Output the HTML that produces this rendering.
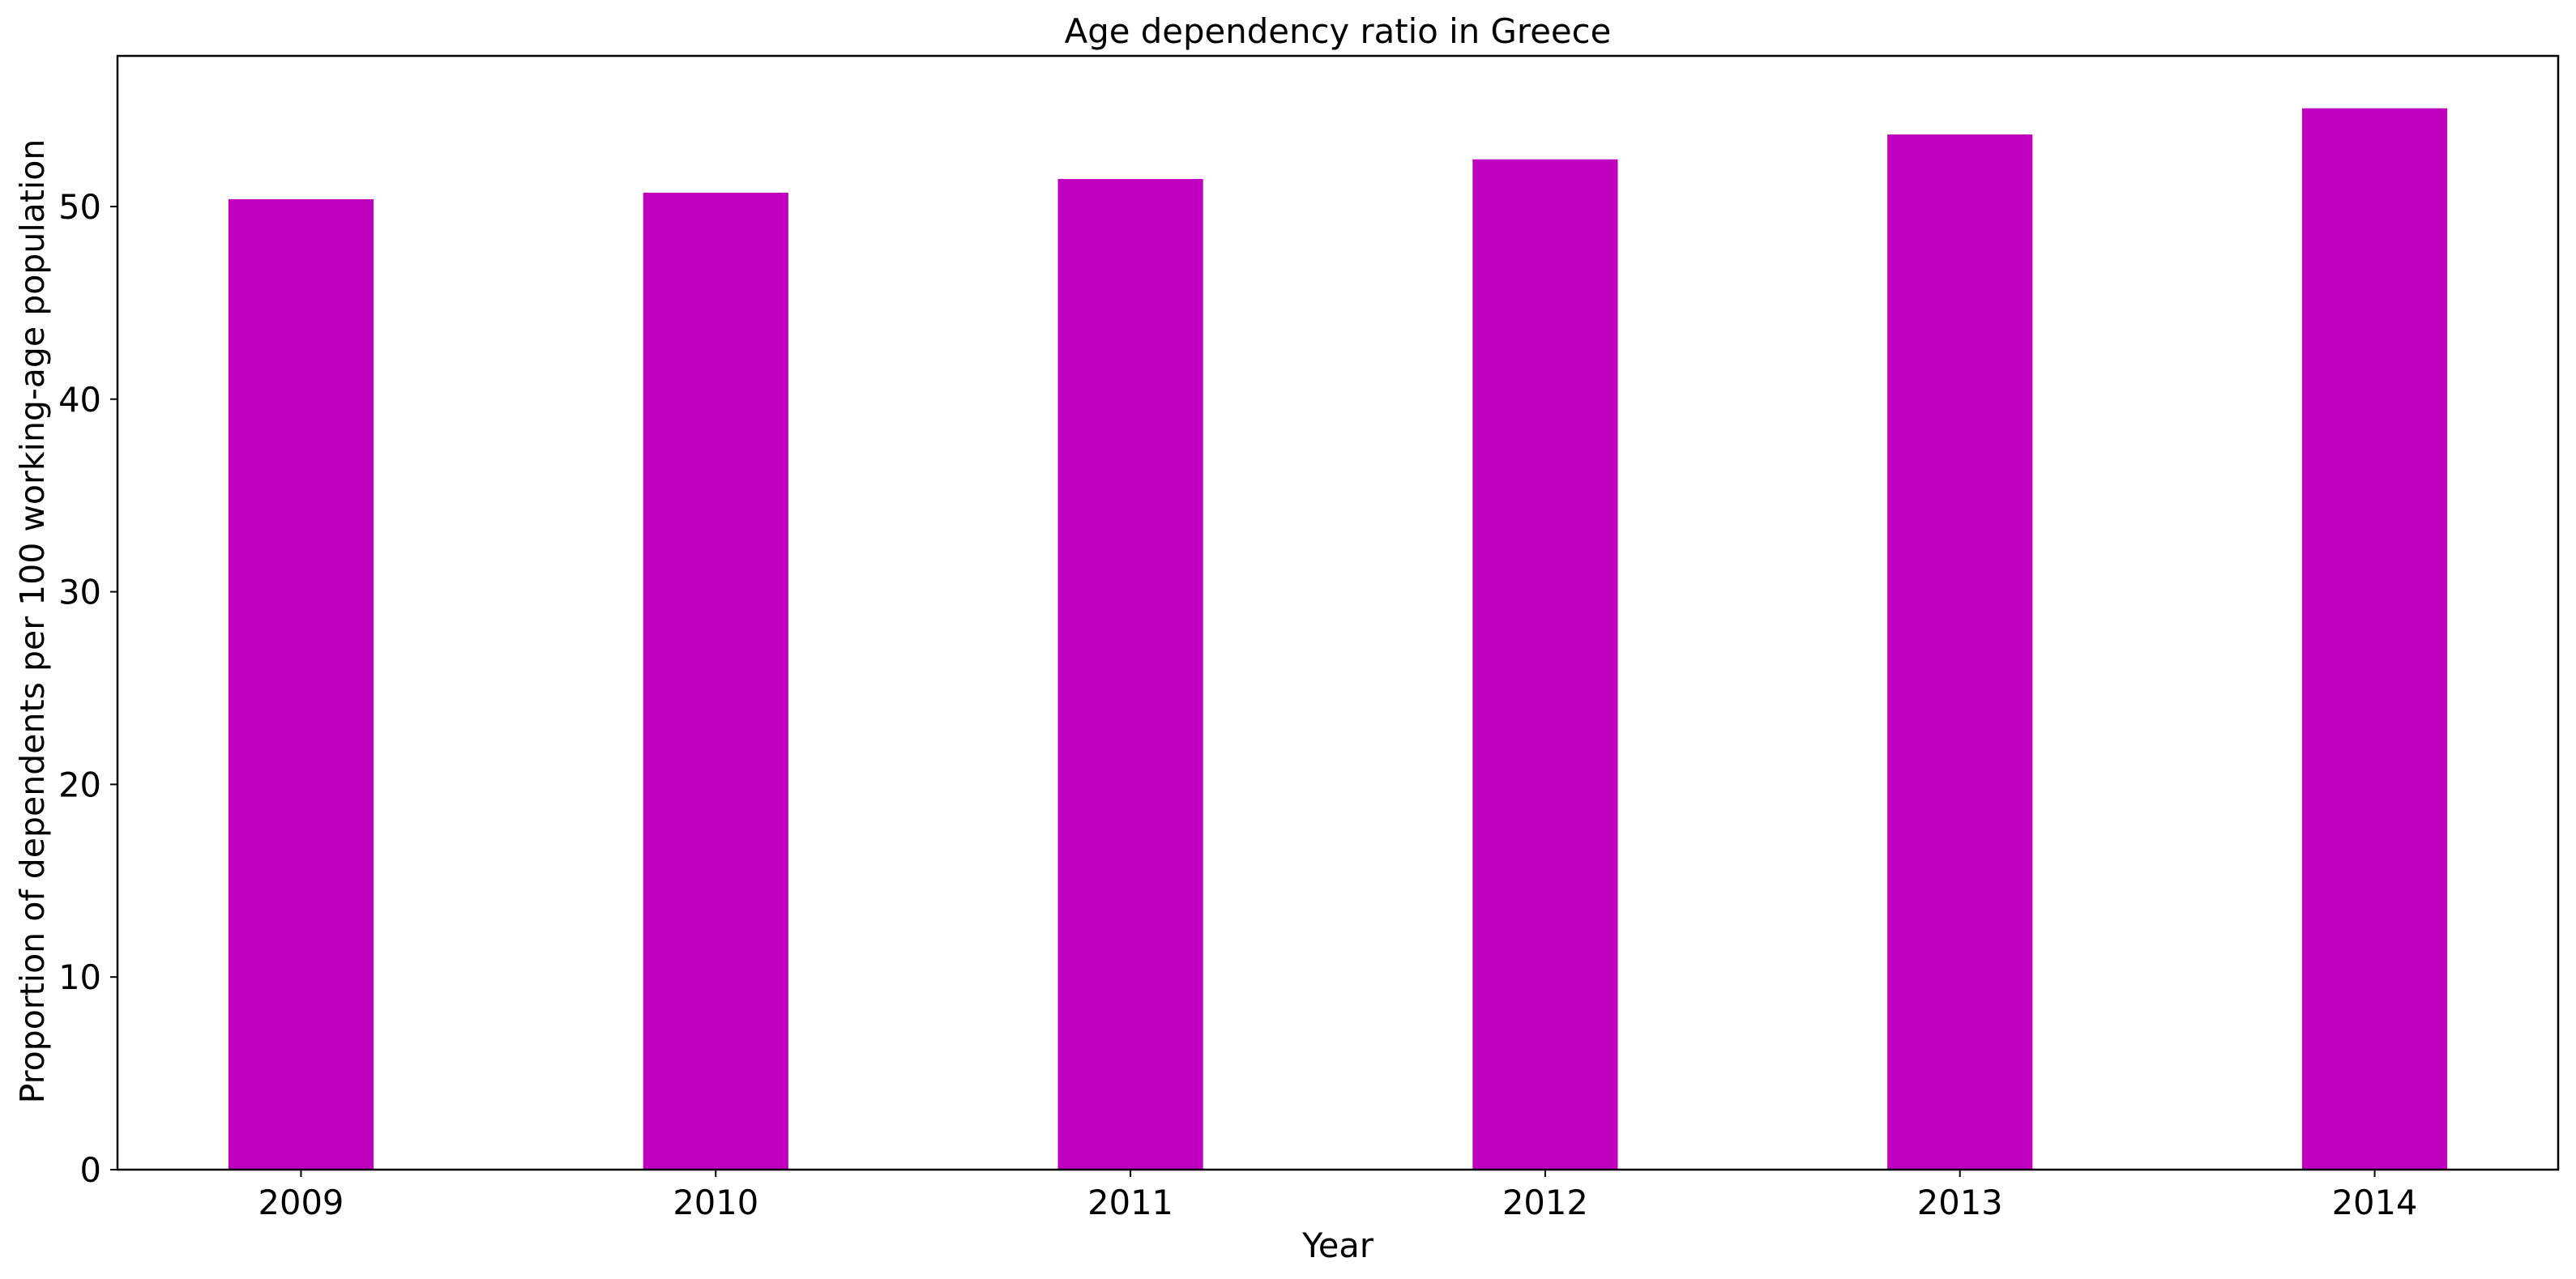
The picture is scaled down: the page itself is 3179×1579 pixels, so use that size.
<!DOCTYPE html>
<html><head><meta charset="utf-8"><style>
html,body{margin:0;padding:0;background:#fff;}
svg{display:block;font-family:"DejaVu Sans","Liberation Sans",sans-serif;}
</style></head><body>
<svg id="chart" width="3179" height="1579" viewBox="0 0 3179 1579" xmlns="http://www.w3.org/2000/svg">
<rect width="3179" height="1579" fill="#fff"/>
<text x="1651" y="53" font-size="41.8" text-anchor="middle">Age dependency ratio in Greece</text>
<g id="bars"></g>
<g id="yticks"></g>
<g id="xticks"></g>
<rect x="145" y="69" width="3012" height="1375" fill="none" stroke="#000" stroke-width="2.5"/>
<text x="1651" y="1552" font-size="41.5" text-anchor="middle">Year</text>
<text transform="translate(54,767) rotate(-90)" font-size="41" text-anchor="middle">Proportion of dependents per 100 working-age population</text>
</svg>
<script>
const categories = ["2009","2010","2011","2012","2013","2014"];
const values = [50.38, 50.72, 51.43, 52.45, 53.74, 55.1];
const yTicks = [0, 10, 20, 30, 40, 50];

const NS = "http://www.w3.org/2000/svg";
const L = 145, R = 3157, T = 69, B = 1444;
const xMin = -0.4425, xMax = 5.4425, yMin = 0, yMax = 57.82;
function xs(i){ return L + (i - xMin) / (xMax - xMin) * (R - L); }
function ys(v){ return B - (v - yMin) / (yMax - yMin) * (B - T); }
const barW = 0.35;

const gb = document.getElementById('bars');
values.forEach((v, i) => {
  const r = document.createElementNS(NS, 'rect');
  const x0 = xs(i - barW / 2), x1 = xs(i + barW / 2);
  r.setAttribute('x', x0);
  r.setAttribute('width', x1 - x0);
  r.setAttribute('y', ys(v));
  r.setAttribute('height', ys(0) - ys(v));
  r.setAttribute('fill', '#bf00bf');
  
  
  gb.appendChild(r);
});

const gy = document.getElementById('yticks');
yTicks.forEach(t => {
  const y = ys(t);
  const ln = document.createElementNS(NS, 'line');
  ln.setAttribute('x1', L - 9); ln.setAttribute('x2', L);
  ln.setAttribute('y1', y); ln.setAttribute('y2', y);
  ln.setAttribute('stroke', '#000'); ln.setAttribute('stroke-width', '2');
  
  
  gy.appendChild(ln);
  const tx = document.createElementNS(NS, 'text');
  tx.setAttribute('x', L - 20); tx.setAttribute('y', y + 15);
  tx.setAttribute('font-size', '41.6'); tx.setAttribute('text-anchor', 'end');
  tx.textContent = String(t);
  
  
  gy.appendChild(tx);
});

const gx = document.getElementById('xticks');
categories.forEach((c, i) => {
  const x = xs(i);
  const ln = document.createElementNS(NS, 'line');
  ln.setAttribute('x1', x); ln.setAttribute('x2', x);
  ln.setAttribute('y1', B); ln.setAttribute('y2', B + 9);
  ln.setAttribute('stroke', '#000'); ln.setAttribute('stroke-width', '2');
  
  
  gx.appendChild(ln);
  const tx = document.createElementNS(NS, 'text');
  tx.setAttribute('x', x); tx.setAttribute('y', B + 55);
  tx.setAttribute('font-size', '41.6'); tx.setAttribute('text-anchor', 'middle');
  tx.textContent = c;
  
  
  gx.appendChild(tx);
});
</script>
</body></html>
